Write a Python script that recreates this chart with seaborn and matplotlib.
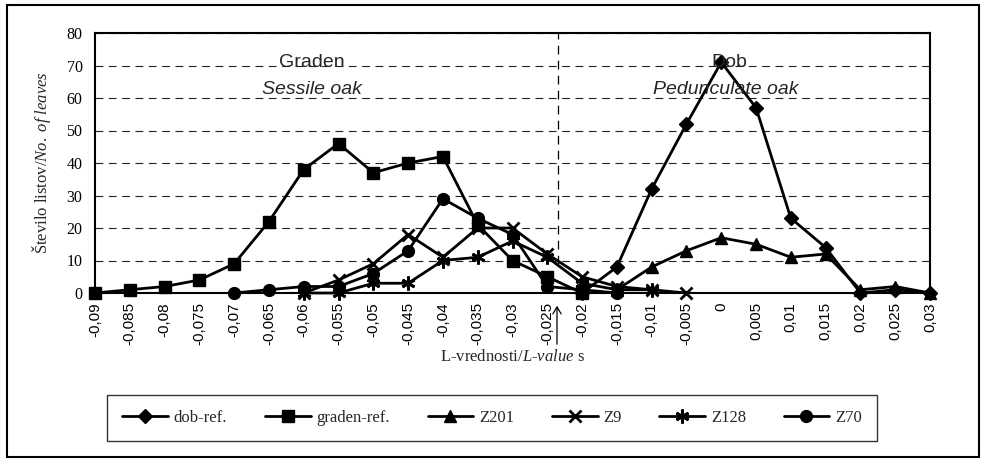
import numpy as np
import pandas as pd
import matplotlib
matplotlib.use("Agg")
import matplotlib.pyplot as plt
from matplotlib.patches import Rectangle, FancyArrowPatch
import seaborn as sns

nan = np.nan

L_values = [-0.09, -0.085, -0.08, -0.075, -0.07, -0.065, -0.06, -0.055, -0.05,
            -0.045, -0.04, -0.035, -0.03, -0.025, -0.02, -0.015, -0.01, -0.005,
            0.0, 0.005, 0.01, 0.015, 0.02, 0.025, 0.03]
tick_labels = ["-0,09", "-0,085", "-0,08", "-0,075", "-0,07", "-0,065", "-0,06",
               "-0,055", "-0,05", "-0,045", "-0,04", "-0,035", "-0,03", "-0,025",
               "-0,02", "-0,015", "-0,01", "-0,005", "0", "0,005", "0,01",
               "0,015", "0,02", "0,025", "0,03"]

dob_ref    = [nan, nan, nan, nan, nan, nan, nan, nan, nan, nan, nan, nan, nan, nan,
              0, 8, 32, 52, 71, 57, 23, 14, 0, 1, 0]
graden_ref = [0, 1, 2, 4, 9, 22, 38, 46, 37, 40, 42, 21, 10, 5, 0,
              nan, nan, nan, nan, nan, nan, nan, nan, nan, nan]
z201       = [nan, nan, nan, nan, nan, nan, nan, nan, nan, nan, nan, nan, nan, nan, nan,
              1, 8, 13, 17, 15, 11, 12, 1, 2, 0]
z9         = [nan, nan, nan, nan, nan, nan, 0, 4, 9, 18, 11, 20, 20, 12, 5, 2, 1, 0,
              nan, nan, nan, nan, nan, nan, nan]
z128       = [nan, nan, nan, nan, nan, nan, 0, 0, 3, 3, 10, 11, 16, 11, 3, 1, 1, nan,
              nan, nan, nan, nan, nan, nan, nan]
z70        = [nan, nan, nan, nan, 0, 1, 2, 2, 6, 13, 29, 23, 18, 2, 1, 0, nan, nan,
              nan, nan, nan, nan, nan, nan, nan]

series_names = ["dob-ref.", "graden-ref.", "Z201", "Z9", "Z128", "Z70"]
series_values = [dob_ref, graden_ref, z201, z9, z128, z70]
markers = ["D", "s", "^", "x", (6, 2, 0), "o"]
msizes = [7, 8, 8, 9, 10, 8.5]

sns.set_style("white")
plt.rcParams["font.family"] = ["Liberation Serif", "DejaVu Serif"]
plt.rcParams["mathtext.fontset"] = "custom"
plt.rcParams["mathtext.rm"] = "Liberation Serif"
plt.rcParams["mathtext.it"] = "Liberation Serif:italic"
plt.rcParams["mathtext.bf"] = "Liberation Serif:bold"

fig = plt.figure(figsize=(9.81, 4.63), dpi=100)
ax = fig.add_axes([95 / 981, 1 - 293 / 463, (930 - 95) / 981, (293 - 33) / 463])

for name, vals, mk, ms in zip(series_names, series_values, markers, msizes):
    df = pd.DataFrame({"L": L_values, "n": vals}).dropna()
    sns.lineplot(data=df, x="L", y="n", ax=ax, color="black", lw=2.0,
                 marker=mk, markersize=ms,
                 markeredgewidth=2 if mk in ("x", (6, 2, 0)) else 1,
                 markeredgecolor="black", markerfacecolor="black",
                 label=name, clip_on=False, zorder=3, legend=False)

ax.set_xlim(-0.09, 0.03)
ax.set_ylim(0, 80)
ax.set_yticks(range(0, 81, 10))
ax.set_yticklabels([str(v) for v in range(0, 81, 10)], fontsize=11.5)
ax.set_xticks(L_values)
ax.set_xticklabels(tick_labels, rotation=90, fontsize=11,
                   family=["Liberation Sans", "DejaVu Sans"])
ax.tick_params(axis="x", direction="inout", length=9, width=1, pad=2, colors="black")
ax.tick_params(axis="y", direction="out", length=6, width=1, pad=3, colors="black")
ax.yaxis.grid(True, linestyle=(0, (7, 5)), color="#222222", lw=0.8)
ax.set_axisbelow(True)
for sp in ax.spines.values():
    sp.set_color("black")
    sp.set_linewidth(1.5)

ax.set_xlabel("")
ax.set_ylabel("Število listov/$\\it{No.\\ of\\ leaves}$", fontsize=12, labelpad=10)

# vertical separator
ax.plot([-0.0234, -0.0234], [9, 80], color="black", lw=0.9, ls=(0, (7, 5)), zorder=2)

# group labels
sans = ["Liberation Sans", "DejaVu Sans"]
ax.text(-0.0588, 71.0, "Graden", ha="center", va="center", fontsize=14, family=sans)
ax.text(-0.0588, 62.5, "Sessile oak", ha="center", va="center", fontsize=14,
        family=sans, style="italic")
ax.text(0.0012, 71.0, "Dob", ha="center", va="center", fontsize=14, family=sans)
ax.text(0.0007, 62.5, "Pedunculate oak", ha="center", va="center", fontsize=14,
        family=sans, style="italic")

# x label with arrow
fig.text(512 / 981, 1 - 357 / 463, "L-vrednosti/$\\it{L}$-$\\it{value}$ s",
         ha="center", va="center", fontsize=12)
fig.add_artist(FancyArrowPatch(
    (557 / 981, 1 - 347 / 463), (557 / 981, 1 - 303 / 463),
    transform=fig.transFigure, arrowstyle="->,head_length=5,head_width=3",
    color="black", lw=0.9))

# legend
handles, labels = ax.get_legend_handles_labels()
leg = fig.legend(handles, labels, loc="center",
                 bbox_to_anchor=(492 / 981, 1 - 417.5 / 463),
                 ncol=6, frameon=True, fancybox=False, borderaxespad=0,
                 handlelength=2.75, handletextpad=0.35, fontsize=12,
                 borderpad=0.9, columnspacing=2.25)
leg.get_frame().set_edgecolor("black")
leg.get_frame().set_linewidth(1.0)

# outer frame
fig.add_artist(Rectangle((7 / 981, 1 - 457 / 463), (979 - 7) / 981, (457 - 5) / 463,
                         transform=fig.transFigure, fill=False, edgecolor="black", lw=1.5))

fig.savefig("out.png", dpi=100)
